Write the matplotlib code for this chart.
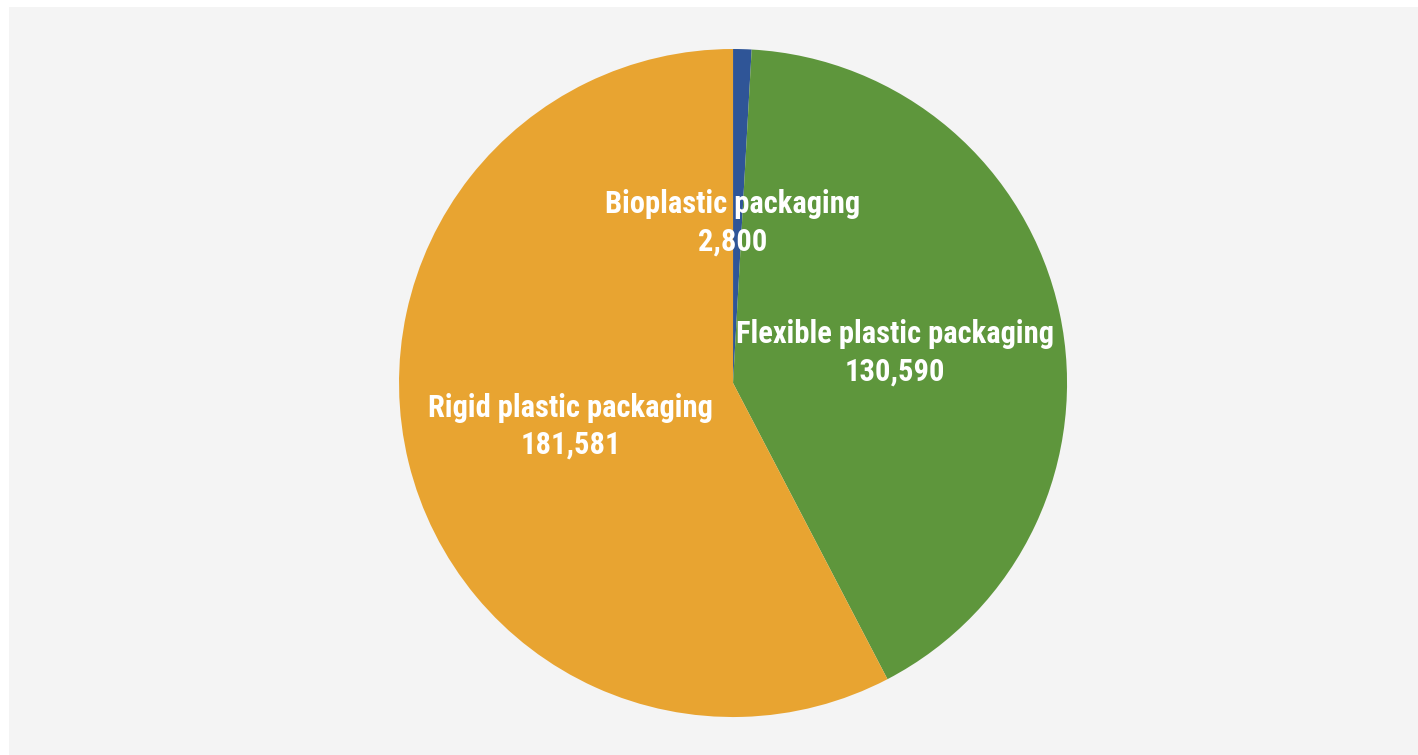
import matplotlib as mpl
mpl.use('Agg')
import matplotlib.pyplot as plt
from matplotlib import font_manager

categories = ['Bioplastic packaging', 'Flexible plastic packaging', 'Rigid plastic packaging']
values = [2800, 130590, 181581]
colors = ['#2f5597', '#5e963c', '#e8a431']

bg = '#f4f4f4'

# condensed bold face if there is one, otherwise plain DejaVu a bit smaller
family, fsize = 'DejaVu Sans', 17
for cand in ['Roboto Condensed', 'Liberation Sans Narrow', 'Open Sans Condensed']:
    try:
        font_manager.findfont(font_manager.FontProperties(family=cand, weight='bold'),
                              fallback_to_default=False)
        family, fsize = cand, 22
        break
    except ValueError:
        pass

fig = plt.figure(figsize=(14.18, 7.55), dpi=100)
fig.patch.set_facecolor('white')
# grey panel, offset from the top-left like in the source
fig.patches.append(plt.Rectangle((9 / 1418, 0), 1, 1 - 7 / 755, transform=fig.transFigure,
                                 facecolor=bg, edgecolor='none', zorder=-10))

ax = fig.add_axes([0.2814, 0.0503, 0.4711, 0.8848])
ax.set_facecolor('none')

labels = ['{:s}\n{:,}'.format(c, v) for c, v in zip(categories, values)]
wedges, texts = ax.pie(values, labels=labels, colors=colors, startangle=90,
                       counterclock=False, labeldistance=0.5,
                       wedgeprops={'linewidth': 0})
for t in texts:
    t.set_ha('center')
    t.set_va('center')
    t.set_multialignment('center')
    t.set_color('white')
    t.set_fontsize(fsize)
    t.set_fontweight('bold')
    t.set_family([family, 'DejaVu Sans'])
    t.set_linespacing(1.3)
# bioplastic label sits a bit further out, centred on the top
texts[0].set_position((0.0, 0.48))
x, y = texts[1].get_position()
texts[1].set_position((x - 0.005, y - 0.015))
x, y = texts[2].get_position()
texts[2].set_position((x, y - 0.01))

ax.set_xlim(-1, 1)
ax.set_ylim(-1, 1)
ax.set_aspect('equal')
ax.axis('off')

fig.savefig('out.png', dpi=100, facecolor=fig.get_facecolor())
